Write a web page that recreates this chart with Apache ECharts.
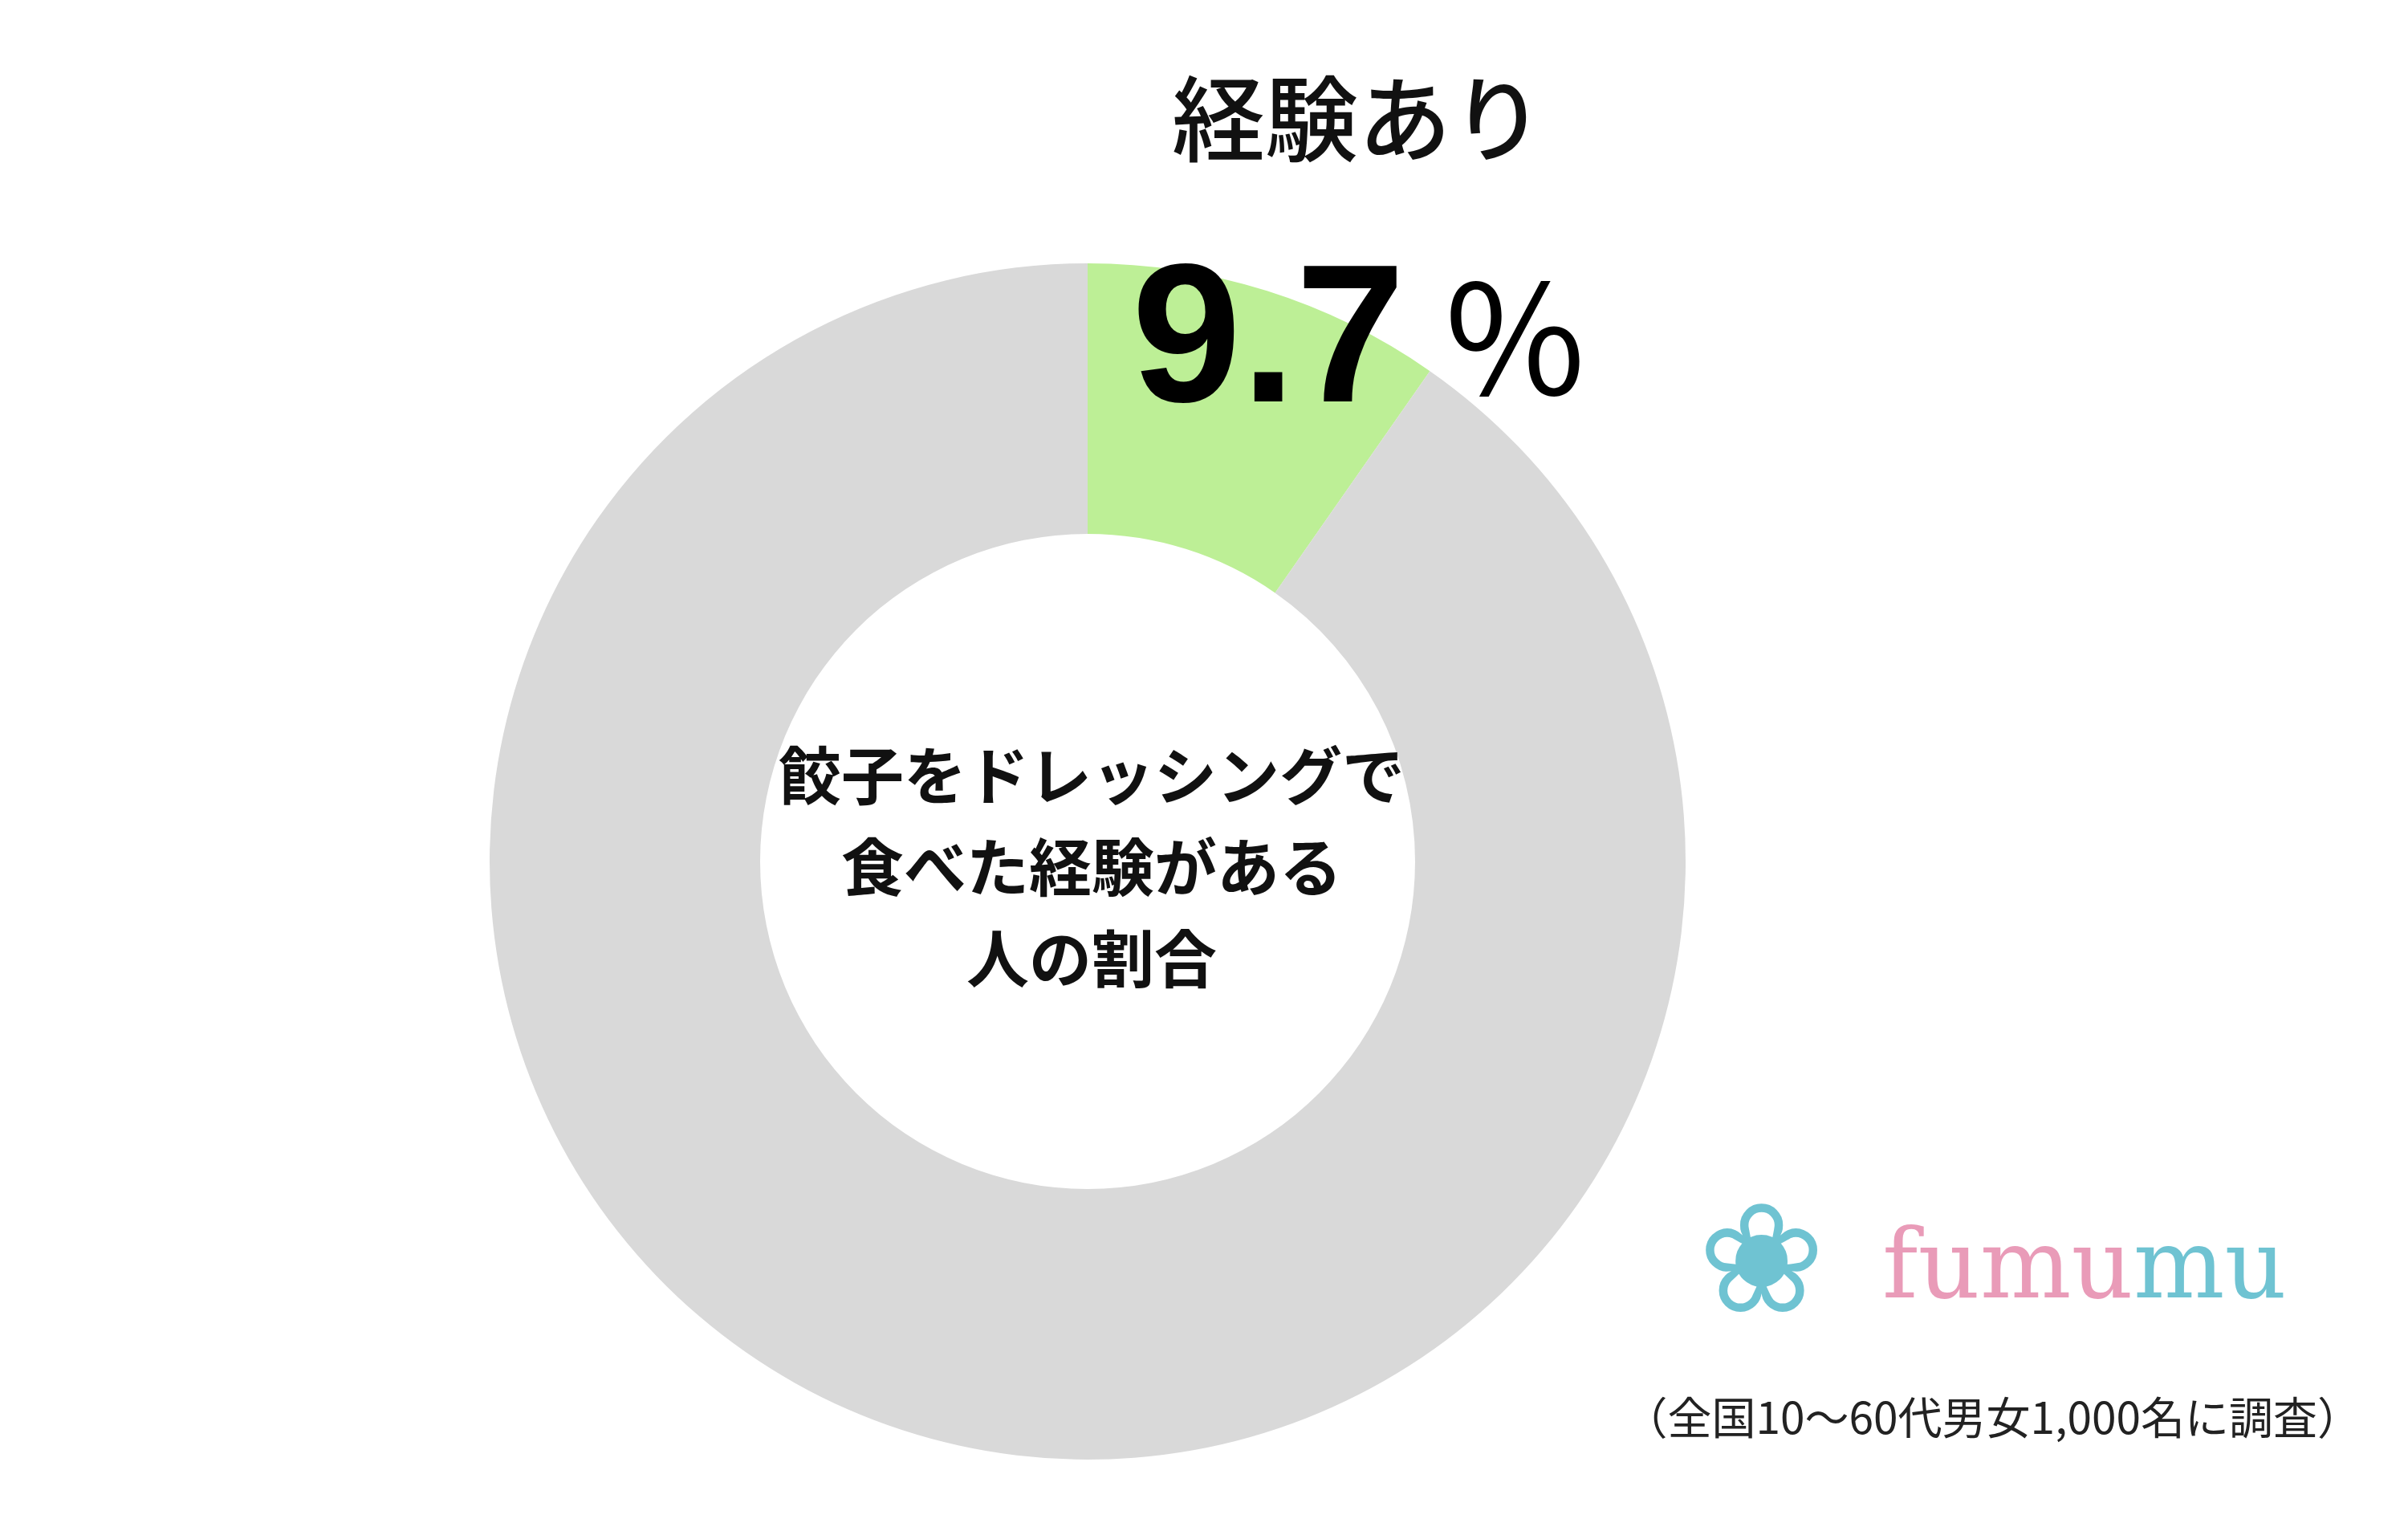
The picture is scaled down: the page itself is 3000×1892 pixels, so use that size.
<!DOCTYPE html>
<html><head><meta charset="utf-8">
<script src="https://cdn.jsdelivr.net/npm/echarts@6/dist/echarts.min.js"></script>
<style>html,body{margin:0;padding:0;background:#fff}#c{width:3000px;height:1892px}</style>
</head><body><div id="c"></div>
<script>
const categories = ['経験あり', '経験なし'];
const values = [9.7, 90.3];
const colors = ['#bdef96', '#d9d9d9'];
const chart = echarts.init(document.getElementById('c'));
const F = '"Noto Sans CJK JP","Noto Sans",sans-serif';
chart.setOption({
  animation: false,
  series: [{
    type: 'pie', center: [1355, 1073], radius: [408, 745], startAngle: 90, clockwise: true, z: 1,
    label: {show: false}, labelLine: {show: false}, silent: true,
    data: categories.map((n, i) => ({name: n, value: values[i], itemStyle: {color: colors[i]}}))
  }],
  graphic: [
    {type: 'text', z: 100, left: 1460, top: 90, style: {text: categories[0], font: '500 116px ' + F, fill: '#111'}},
    {type: 'text', z: 100, left: 1410, top: 310, style: {text: String(values[0]), font: 'bold 245px "Liberation Sans",Arial,sans-serif', fill: '#000'}},
    {type: 'text', z: 100, left: 1800, top: 325, style: {text: '%', font: '190px "Noto Sans CJK JP",sans-serif', fill: '#000'}},
    {type: 'text', z: 100, x: 1360, y: 1080, style: {text: '餃子をドレッシングで\n食べた経験がある\n人の割合', font: 'bold 78px ' + F, lineHeight: 114, fill: '#111', align: 'center', verticalAlign: 'middle'}},
    {type: 'text', z: 100, left: 2345, top: 1525, style: {rich: {p: {font: '120px "DejaVu Serif",serif', fill: '#e99bb8'}, t: {font: '120px "DejaVu Serif",serif', fill: '#6fc3d2'}}, text: '{p|fumu}{t|mu}'}},
    {type: 'text', z: 100, left: 2115, top: 1490, style: {text: '❀', font: '190px "DejaVu Sans",sans-serif', fill: '#6fc3d2'}},
    {type: 'text', z: 100, right: 58, top: 1738, style: {text: '（全国10～60代男女1,000名に調査）', font: '55px ' + F, fill: '#222'}}
  ]
});
</script></body></html>
